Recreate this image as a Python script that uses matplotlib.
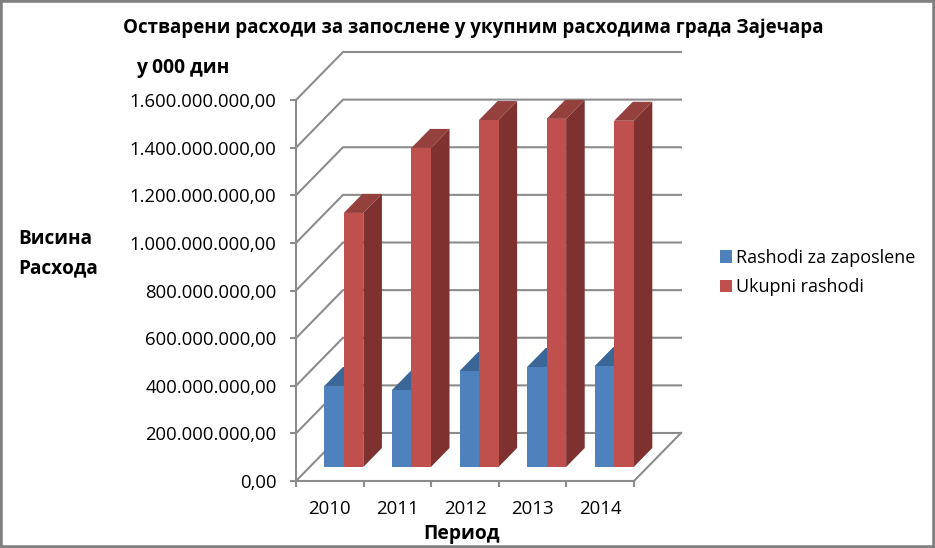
import matplotlib
matplotlib.use("Agg")
import matplotlib.pyplot as plt
from matplotlib.patches import Polygon, Rectangle
from matplotlib.ticker import FuncFormatter

years = ["2010", "2011", "2012", "2013", "2014"]
rashodi_zaposlene = [340e6, 323e6, 403e6, 420e6, 424e6]
ukupni_rashodi = [1067e6, 1340e6, 1457e6, 1462e6, 1454e6]
y_ticks = [0, 200e6, 400e6, 600e6, 800e6, 1000e6, 1200e6, 1400e6, 1600e6]

W, H = 935, 548
FONT = "Open Sans"
plt.rcParams["font.family"] = [FONT, "DejaVu Sans"]

fig = plt.figure(figsize=(W / 100, H / 100), dpi=100, facecolor="white")
L, R, B, T = 296, 634, 481, 100
ax = fig.add_axes([L / W, 1 - B / H, (R - L) / W, (B - T) / H])
ax.set_xlim(0, 5)
ax.set_ylim(0, 1.6e9)
ax.patch.set_visible(False)

px_x = 5 / (R - L)
px_y = 1.6e9 / (B - T)
DX, DY = 47 * px_x, 48 * px_y

def proj(x, v, depth):
    return (x + depth * DX, v + depth * DY)

GRID = "#8c8c8c"
for v in y_ticks:
    ax.plot([proj(0, v, 0)[0], proj(0, v, 1)[0], proj(5, v, 1)[0]],
            [proj(0, v, 0)[1], proj(0, v, 1)[1], proj(5, v, 1)[1]],
            color=GRID, lw=1.5, clip_on=False, zorder=1, solid_joinstyle="miter")
p0, p1 = proj(5, 0, 0), proj(5, 0, 1)
ax.plot([p0[0], p1[0]], [p0[1], p1[1]], color=GRID, lw=1.5, clip_on=False, zorder=1)

d0, d1 = 14 / 48, 33 / 48
bw = 19.5 * px_x
series = [(rashodi_zaposlene, -1, "#4f81bd", "#2f5f8f", "#3a6798", "Rashodi za zaposlene"),
          (ukupni_rashodi, 0, "#c0504d", "#7f3130", "#94403d", "Ukupni rashodi")]
for vals, off, front, side, top, name in series:
    for i, v in enumerate(vals):
        x0 = i + 0.5 + off * bw + 0.3 * px_x
        base = proj(0, 0, d0)[1]
        xl = proj(x0, 0, d0)[0]
        ax.bar(xl, v, width=bw, bottom=base, align="edge", color=front,
               clip_on=False, zorder=3 + i * 2 + (off + 1) * .5,
               label=name if i == 0 else None)
        xr = xl + bw
        z = 2.9 + i * 2 + (off + 1) * .5
        ax.add_patch(Polygon([(xr, base), (xr + (d1 - d0) * DX, base + (d1 - d0) * DY),
                              (xr + (d1 - d0) * DX, base + v + (d1 - d0) * DY), (xr, base + v)],
                             closed=True, fc=side, ec="none", clip_on=False, zorder=z))
        ax.add_patch(Polygon([(xl, base + v), (xr, base + v),
                              (xr + (d1 - d0) * DX, base + v + (d1 - d0) * DY),
                              (xl + (d1 - d0) * DX, base + v + (d1 - d0) * DY)],
                             closed=True, fc=top, ec="none", clip_on=False, zorder=z))

for s in ("top", "right"):
    ax.spines[s].set_visible(False)
for s in ("left", "bottom"):
    ax.spines[s].set_color(GRID)
    ax.spines[s].set_linewidth(1.5)
ax.set_yticks(y_ticks)
ax.yaxis.set_major_formatter(FuncFormatter(
    lambda v, _: f"{v:,.2f}".replace(",", "X").replace(".", ",").replace("X", ".")))
ax.set_xticks(range(6))
ax.set_xticklabels([])
for i, y in enumerate(years):
    ax.annotate(y, (i + 0.5, 0), xytext=(0, -14), textcoords="offset points",
                ha="center", va="top", fontsize=13.4, color="black", annotation_clip=False)
ax.tick_params(axis="both", color=GRID, width=1.5, length=4)
ax.tick_params(axis="y", labelsize=13.3, pad=10)
ax.tick_params(axis="x", direction="out")

def ftext(px, py, s, **kw):
    fig.text(px / W, 1 - py / H, s, **kw)

ftext(473, 28, "Остварени расходи за запослене у укупним расходима града Зајечара",
      ha="center", va="center", fontsize=13.5, fontweight="bold")
ftext(136, 67.5, "у 000 дин", ha="left", va="center", fontsize=13.9, fontweight="bold")
ftext(18, 238.5, "Висина", ha="left", va="center", fontsize=13.7, fontweight="bold")
ftext(18, 268, "Расхода", ha="left", va="center", fontsize=13.7, fontweight="bold")
ftext(461.5, 533.5, "Период", ha="center", va="center", fontsize=13.9, fontweight="bold")

ax.legend(loc="upper left", bbox_to_anchor=(720 / W, 1 - 249 / H),
          bbox_transform=fig.transFigure, frameon=False, fontsize=13,
          handlelength=0.68, handleheight=0.68, handletextpad=0.2, labelspacing=0.62,
          borderpad=0, borderaxespad=0)

fig.add_artist(Rectangle((0, 0), 1, 1, transform=fig.transFigure, fill=False,
                         ec="#808080", lw=4))
fig.savefig("out.png", dpi=100)
